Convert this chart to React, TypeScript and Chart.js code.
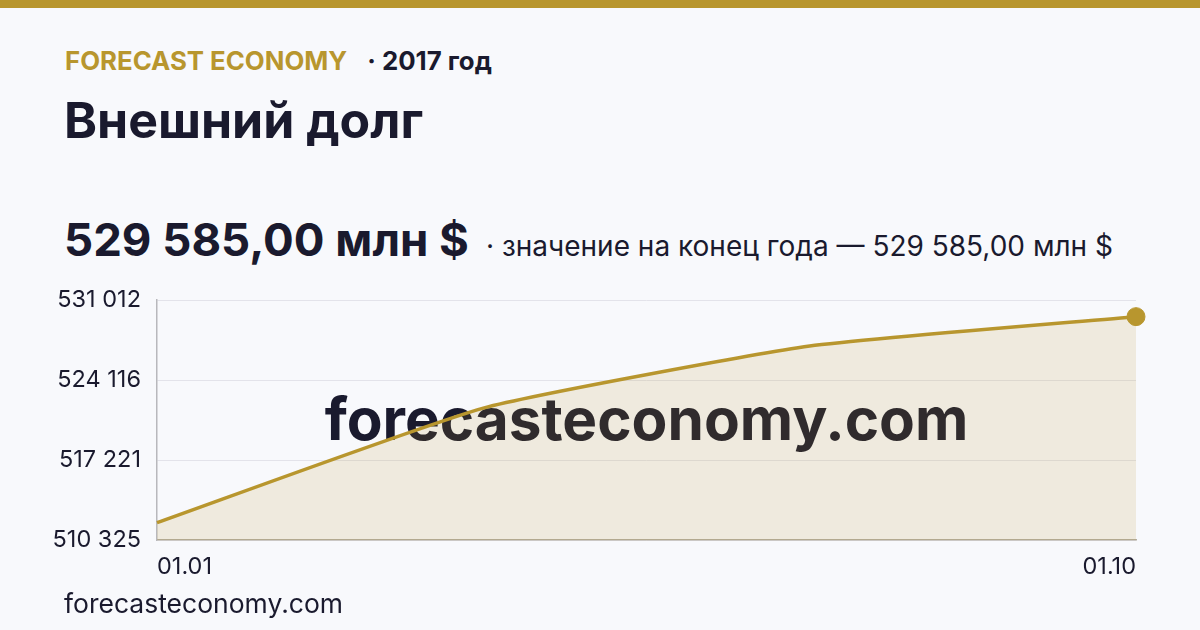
import React, { useEffect, useRef } from "react";
import { Chart, registerables } from "chart.js";

Chart.register(...registerables);

const categories = ["01.01", "01.04", "01.07", "01.10"];
const debtValues = [511820, 521700, 527050, 529585];
const yTicks = [510325, 517221, 524116, 531012];

const GOLD = "#b8962e";
const DARK = "#1a1a2e";
const BG = "#f8f9fc";
const FONT = "Inter, 'Noto Sans', sans-serif";

const fmt = (v: number) =>
  String(Math.round(v)).replace(/\B(?=(\d{3})+(?!\d))/g, " ");

const watermarkPlugin = {
  id: "watermark",
  beforeDatasetsDraw(chart: any) {
    const { ctx, chartArea } = chart;
    ctx.save();
    ctx.font = `700 58.5px ${FONT}`;
    ctx.fillStyle = DARK;
    ctx.textAlign = "center";
    ctx.textBaseline = "middle";
    ctx.fillText(
      "forecasteconomy.com",
      (chartArea.left + chartArea.right) / 2,
      (chartArea.top + chartArea.bottom) / 2 + 2
    );
    ctx.restore();
  },
};

export default function App() {
  const ref = useRef<HTMLCanvasElement | null>(null);

  useEffect(() => {
    document.body.style.margin = "0";
    const canvas = ref.current;
    if (!canvas) return;
    const n = categories.length;
    const chart = new Chart(canvas, {
      type: "line",
      data: {
        labels: categories,
        datasets: [
          {
            data: debtValues,
            borderColor: GOLD,
            borderWidth: 3.5,
            backgroundColor: "rgba(184,150,46,0.14)",
            fill: "origin",
            tension: 0.15,
            pointRadius: debtValues.map((_, i) => (i === n - 1 ? 9 : 0)),
            pointHoverRadius: 9,
            pointBackgroundColor: GOLD,
            pointBorderColor: GOLD,
            pointBorderWidth: 1,
          },
        ],
      },
      options: {
        animation: false,
        responsive: false,
        maintainAspectRatio: false,
        layout: { padding: { left: 40, right: 64, top: 12, bottom: 10 } },
        plugins: {
          legend: { display: false },
          tooltip: { enabled: false },
        },
        scales: {
          x: {
            grid: { display: false, drawTicks: false },
            border: { display: true, color: "#b3ada0", width: 1.5 },
            afterFit: (s: any) => {
              s.height = 40;
            },
            ticks: {
              autoSkip: false,
              maxRotation: 0,
              align: "inner",
              padding: 13,
              color: DARK,
              font: { family: FONT, size: 23.5 },
              callback: (_v: any, i: number) =>
                i === 0 || i === n - 1 ? categories[i] : "",
            },
          },
          y: {
            min: yTicks[0],
            max: yTicks[yTicks.length - 1],
            afterBuildTicks: (s: any) => {
              s.ticks = yTicks.map((v) => ({ value: v }));
            },
            afterFit: (s: any) => {
              s.width = 117;
            },
            grid: { color: "#e3e3ea", lineWidth: 1, drawTicks: false },
            border: { display: true, color: "#b8b8bc", width: 1.5 },
            ticks: {
              padding: 16,
              color: DARK,
              font: { family: FONT, size: 23.5 },
              callback: (v: any) => fmt(Number(v)),
            },
          },
        },
      },
      plugins: [watermarkPlugin],
    } as any);
    return () => chart.destroy();
  }, []);

  return (
    <div
      style={{
        position: "fixed",
        left: 0,
        top: 0,
        width: 1200,
        height: 630,
        background: BG,
        fontFamily: FONT,
        color: DARK,
        overflow: "hidden",
      }}
    >
      <div style={{ position: "absolute", left: 0, top: 0, width: 1200, height: 8, background: GOLD }} />
      <div
        style={{
          position: "absolute",
          left: 65,
          top: 47.5,
          fontSize: 25.8,
          lineHeight: 1,
          fontWeight: 700,
          whiteSpace: "nowrap",
        }}
      >
        <span style={{ color: GOLD }}>FORECAST ECONOMY</span>
        <span style={{ marginLeft: 20 }}>· 2017 год</span>
      </div>
      <div
        style={{
          position: "absolute",
          left: 64,
          top: 95,
          fontSize: 50,
          lineHeight: 1,
          fontWeight: 700,
          whiteSpace: "nowrap",
        }}
      >
        Внешний долг
      </div>
      <div
        style={{
          position: "absolute",
          left: 64,
          top: 217,
          display: "flex",
          alignItems: "baseline",
          whiteSpace: "nowrap",
          lineHeight: 1,
        }}
      >
        <span style={{ fontSize: 45.6, fontWeight: 700 }}>529 585,00 млн $</span>
        <span style={{ fontSize: 28, marginLeft: 17 }}>
          · значение на конец года — 529 585,00 млн $
        </span>
      </div>
      <canvas
        ref={ref}
        width={1200}
        height={320}
        style={{ position: "absolute", left: 0, top: 270, width: 1200, height: 320 }}
      />
      <div
        style={{
          position: "absolute",
          left: 64,
          top: 590,
          fontSize: 26.5,
          lineHeight: 1,
          whiteSpace: "nowrap",
        }}
      >
        forecasteconomy.com
      </div>
    </div>
  );
}
